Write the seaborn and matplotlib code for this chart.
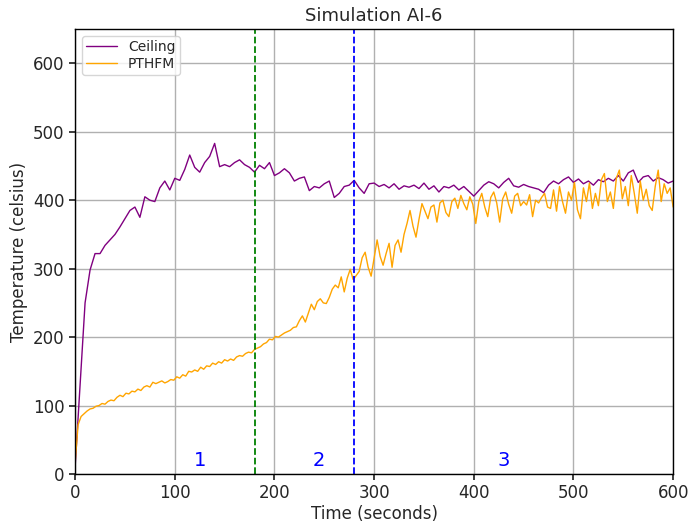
import numpy as np
import pandas as pd
import seaborn as sns
import matplotlib
matplotlib.use("Agg")
import matplotlib.pyplot as plt

# Ceiling temperature, one reading every 5 s
ceiling = [10, 130, 250, 298, 322, 322, 334, 342, 350, 361,
           373, 385, 390, 375, 405, 400, 398, 418, 428, 415,
           432, 429, 445, 466, 448, 441, 455, 464, 483, 449,
           452, 449, 455, 459, 452, 448, 441, 451, 446, 455,
           436, 440, 446, 440, 428, 432, 434, 414, 420, 418,
           424, 428, 404, 410, 420, 422, 429, 418, 410, 424,
           425, 420, 423, 418, 424, 416, 421, 419, 422, 417,
           425, 416, 421, 412, 420, 418, 422, 415, 420, 413,
           406, 414, 422, 427, 424, 418, 426, 432, 421, 419,
           423, 420, 418, 416, 411, 422, 428, 424, 430, 434,
           426, 431, 424, 428, 422, 430, 427, 432, 428, 436,
           428, 440, 444, 426, 434, 436, 428, 433, 430, 425,
           428]

# PTHFM temperature, one reading every 3 s
pthfm = [16, 72, 84, 88, 92, 95, 96, 99, 100, 103,
         102, 106, 108, 107, 112, 115, 113, 118, 117, 121,
         120, 124, 122, 127, 129, 127, 134, 132, 134, 136,
         133, 135, 138, 137, 142, 140, 145, 143, 150, 149,
         152, 150, 156, 153, 158, 157, 162, 160, 164, 162,
         167, 165, 168, 166, 171, 173, 172, 176, 178, 177,
         182, 184, 186, 190, 192, 197, 196, 201, 200, 203,
         206, 208, 210, 214, 215, 224, 231, 222, 235, 248,
         240, 252, 256, 250, 249, 258, 270, 276, 272, 288,
         266, 286, 299, 284, 290, 296, 316, 324, 302, 289,
         316, 342, 318, 305, 322, 337, 302, 334, 342, 324,
         350, 366, 385, 362, 346, 372, 395, 384, 373, 390,
         393, 368, 396, 400, 382, 376, 398, 403, 388, 407,
         395, 386, 405, 394, 366, 398, 410, 390, 376, 404,
         412, 396, 368, 402, 412, 394, 381, 406, 410, 392,
         398, 393, 408, 376, 400, 396, 404, 410, 390, 388,
         415, 384, 420, 398, 381, 412, 400, 426, 386, 373,
         418, 398, 425, 388, 410, 392, 430, 439, 398, 412,
         388, 432, 444, 402, 420, 392, 436, 410, 381, 428,
         400, 416, 392, 385, 420, 444, 398, 424, 410, 418,
         390]

phase_labels = ["1", "2", "3"]
phase_x = [125, 245, 430]
phase_lines = [180, 280]

df_c = pd.DataFrame({"time": np.arange(len(ceiling)) * 5, "temp": ceiling})
df_p = pd.DataFrame({"time": np.arange(len(pthfm)) * 3, "temp": pthfm})

sns.set_theme(style="ticks", rc={"axes.grid": True, "grid.color": "#b0b0b0",
                                 "grid.linewidth": 1.0, "axes.edgecolor": "black",
                                 "axes.linewidth": 1.0})
plt.rcParams['font.family'] = ['DejaVu Sans']

fig = plt.figure(figsize=(6.89, 5.29), dpi=100)
ax = fig.add_axes([0.109, 0.104, 0.868, 0.841])

sns.lineplot(data=df_c, x="time", y="temp", color="purple", lw=1.0, label="Ceiling", ax=ax)
sns.lineplot(data=df_p, x="time", y="temp", color="orange", lw=1.0, label="PTHFM", ax=ax)

ax.axvline(phase_lines[0], color="green", ls="--", lw=1.3)
ax.axvline(phase_lines[1], color="blue", ls="--", lw=1.3)
for lab, xx in zip(phase_labels, phase_x):
    ax.text(xx, 20, lab, color="blue", fontsize=14, ha="center", va="center")

ax.set_xlim(0, 600)
ax.set_ylim(0, 650)
ax.set_xticks(range(0, 601, 100))
ax.set_yticks(range(0, 601, 100))
ax.tick_params(labelsize=12, direction="out", length=4)
ax.set_xlabel("Time (seconds)", fontsize=12, labelpad=2)
ax.set_ylabel("Temperature (celsius)", fontsize=12)
ax.set_title("Simulation AI-6", fontsize=13)
ax.legend(loc="upper left", fontsize=10, frameon=True, handlelength=2.2,
          borderpad=0.3, labelspacing=0.2, handletextpad=0.8)

fig.savefig("out.png", dpi=100)
